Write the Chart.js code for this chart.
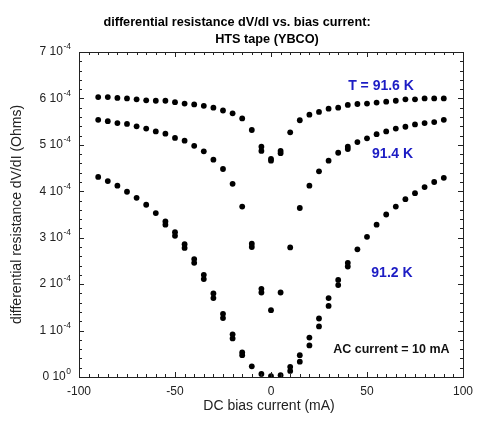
<!DOCTYPE html>
<html>
<head>
<meta charset="utf-8">
<script src="https://cdn.jsdelivr.net/npm/chart.js@4/dist/chart.umd.min.js"></script>
<style>
  html, body { margin: 0; padding: 0; background: #fff; }
  canvas { display: block; }
</style>
</head>
<body>
<canvas id="grafico" width="477" height="421"></canvas>
<script>
// corrente DC (mA)
const correnti = [-90, -85, -80, -75, -70, -65, -60, -55, -50, -45, -40, -35, -30, -25, -20, -15, -10, -5, 0,
                  5, 10, 15, 20, 25, 30, 35, 40, 45, 50, 55, 60, 65, 70, 75, 80, 85, 90];

// dV/dI in unita' di 1e-4 Ohm, sweep di andata
const r916 = [6.03, 6.03, 6.01, 6.00, 5.98, 5.96, 5.95, 5.95, 5.92, 5.89, 5.87, 5.84, 5.80, 5.74, 5.68, 5.57, 5.32, 4.96, 4.70,
              4.87, 5.27, 5.53, 5.65, 5.71, 5.78, 5.80, 5.86, 5.88, 5.89, 5.91, 5.93, 5.95, 5.98, 5.98, 6.00, 6.00, 6.00];
const r914 = [5.54, 5.51, 5.47, 5.45, 5.40, 5.35, 5.29, 5.24, 5.15, 5.09, 4.98, 4.86, 4.68, 4.48, 4.16, 3.67, 2.87, 1.90, 1.44,
              1.82, 2.79, 3.64, 4.12, 4.43, 4.66, 4.83, 4.96, 5.06, 5.14, 5.23, 5.29, 5.35, 5.39, 5.44, 5.47, 5.49, 5.54];
const r912 = [4.31, 4.22, 4.12, 3.99, 3.86, 3.71, 3.53, 3.35, 3.12, 2.86, 2.54, 2.20, 1.80, 1.36, 0.92, 0.53, 0.23, 0.065, 0.02,
              0.04, 0.22, 0.47, 0.85, 1.26, 1.70, 2.09, 2.46, 2.75, 3.02, 3.28, 3.50, 3.67, 3.83, 3.96, 4.09, 4.20, 4.29];

// sweep di ritorno (solo dove il punto si sdoppia)
const r916b = [null, null, null, null, null, null, null, null, null, null, null, null, null, null, null, null, null, 4.87, 4.66,
               4.82, null, null, null, null, null, null, null, null, null, null, null, null, null, null, null, null, null];
const r914b = [null, null, null, null, null, null, null, null, null, null, null, null, null, null, null, null, 2.80, 1.82, null,
               null, null, null, null, null, null, null, 4.91, null, null, null, null, null, null, null, null, null, null];
const r912b = [null, null, null, null, null, null, null, 3.28, 3.04, 2.78, 2.46, 2.11, 1.70, 1.27, 0.83, 0.47, null, null, null,
               null, 0.13, 0.33, 0.68, 1.09, 1.53, 1.98, 2.38, null, null, null, null, null, null, null, null, null, null];

// etichette
const tickX = [-100, -50, 0, 50, 100];
const tickY = [0, 1, 2, 3, 4, 5, 6, 7];
const tickYMant = ['0 10', '1 10', '2 10', '3 10', '4 10', '5 10', '6 10', '7 10'];
const tickYExp = ['0', '-4', '-4', '-4', '-4', '-4', '-4', '-4'];
const titolo1 = 'differential resistance dV/dI vs. bias current:';
const titolo2 = 'HTS tape (YBCO)';
const titoloX = 'DC bias current (mA)';
const titoloY = 'differential resistance dV/dI (Ohms)';
const etichette = [
  { testo: 'T = 91.6 K', x: 57.3, y: 6.27, colore: '#1c1cc4', font: 'bold 14px ' },
  { testo: '91.4 K', x: 63.3, y: 4.81, colore: '#1c1cc4', font: 'bold 14px ' },
  { testo: '91.2 K', x: 63, y: 2.24, colore: '#1c1cc4', font: 'bold 14px ' },
  { testo: 'AC current = 10 mA', x: 62.7, y: 0.6, colore: '#111', font: 'bold 12.5px ' }
];

const FONT = "'Liberation Sans', Arial, sans-serif";

// COSTRUISCE I PUNTI {x, y}
function punti(valori) {
  const out = [];
  valori.forEach((v, i) => {
    if (v !== null) out.push({ x: correnti[i], y: v });
  });
  return out;
}

function serie(valori) {
  return {
    data: punti(valori),
    backgroundColor: '#000',
    borderWidth: 0,
    pointRadius: 2.9,
    pointHoverRadius: 2.9,
    showLine: false
  };
}

// DISEGNA CORNICE, TACCHE E TESTI
const decorazioni = {
  id: 'decorazioni',
  afterDraw(chart) {
    const ctx = chart.ctx;
    const a = chart.chartArea;
    const sx = chart.scales.x;
    const sy = chart.scales.y;
    ctx.save();

    // cornice
    ctx.strokeStyle = '#222';
    ctx.lineWidth = 1;
    ctx.strokeRect(Math.round(a.left) + 0.5, Math.round(a.top) + 0.5,
                   Math.round(a.right - a.left), Math.round(a.bottom - a.top));

    // tacche x (verso l'interno, sopra e sotto)
    ctx.beginPath();
    for (let v = -100; v <= 100; v += 5) {
      const px = Math.round(sx.getPixelForValue(v)) + 0.5;
      const len = (v % 50 === 0) ? 5 : 3;
      ctx.moveTo(px, a.bottom); ctx.lineTo(px, a.bottom - len);
      ctx.moveTo(px, a.top); ctx.lineTo(px, a.top + len);
    }
    // tacche y
    for (let k = 0; k <= 35; k++) {
      const v = k * 0.2;
      const py = Math.round(sy.getPixelForValue(v)) + 0.5;
      const len = (k % 5 === 0) ? 5 : 3;
      ctx.moveTo(a.left, py); ctx.lineTo(a.left + len, py);
      ctx.moveTo(a.right, py); ctx.lineTo(a.right - len, py);
    }
    ctx.stroke();

    // etichette asse x
    ctx.fillStyle = '#222';
    ctx.font = '12px ' + FONT;
    ctx.textAlign = 'center';
    ctx.textBaseline = 'middle';
    tickX.forEach(v => ctx.fillText(String(v), sx.getPixelForValue(v), a.bottom + 15));

    // etichette asse y con esponente
    tickY.forEach((v, i) => {
      const py = sy.getPixelForValue(v);
      ctx.font = '8.5px ' + FONT;
      const wExp = ctx.measureText(tickYExp[i]).width;
      ctx.textAlign = 'right';
      ctx.textBaseline = 'middle';
      ctx.fillText(tickYExp[i], a.left - 8, py - 5);
      ctx.font = '12px ' + FONT;
      ctx.fillText(tickYMant[i], a.left - 8.5 - wExp, py);
    });

    // titoli assi
    ctx.font = '14px ' + FONT;
    ctx.textAlign = 'center';
    ctx.textBaseline = 'middle';
    ctx.fillText(titoloX, 269, 406);
    ctx.save();
    ctx.translate(17, (a.top + a.bottom) / 2);
    ctx.rotate(-Math.PI / 2);
    ctx.fillText(titoloY, 0, 0);
    ctx.restore();

    // titolo
    ctx.fillStyle = '#000';
    ctx.font = 'bold 12.7px ' + FONT;
    ctx.fillText(titolo1, 237, 22);
    ctx.fillText(titolo2, 267, 39);

    // etichette temperature
    etichette.forEach(e => {
      ctx.fillStyle = e.colore;
      ctx.font = e.font + FONT;
      ctx.fillText(e.testo, sx.getPixelForValue(e.x), sy.getPixelForValue(e.y));
    });

    ctx.restore();
  }
};

const ctx = document.getElementById('grafico').getContext('2d');
new Chart(ctx, {
  type: 'scatter',
  data: {
    datasets: [serie(r916), serie(r916b), serie(r914), serie(r914b), serie(r912), serie(r912b)]
  },
  options: {
    responsive: false,
    animation: false,
    devicePixelRatio: 1,
    layout: { padding: { left: 79, top: 52, right: 14, bottom: 44 } },
    plugins: { legend: { display: false }, tooltip: { enabled: false } },
    scales: {
      x: { type: 'linear', display: false, min: -100, max: 100 },
      y: { type: 'linear', display: false, min: 0, max: 7 }
    }
  },
  plugins: [decorazioni]
});
</script>
</body>
</html>
